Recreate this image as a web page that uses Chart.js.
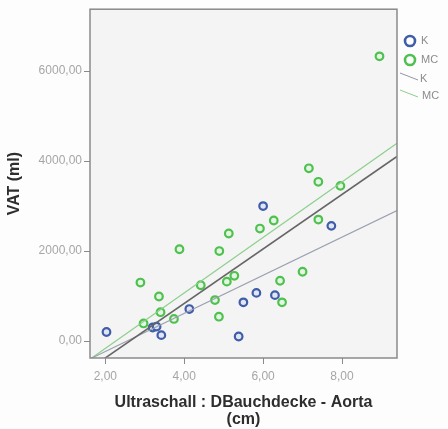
<!DOCTYPE html>
<html>
<head>
<meta charset="utf-8">
<script src="https://cdn.jsdelivr.net/npm/chart.js@4.4.1/dist/chart.umd.min.js"></script>
<style>
  html, body { margin: 0; padding: 0; background: #fdfdfd; }
  #wrap { width: 448px; height: 429px; }
</style>
</head>
<body>
<div id="wrap"><canvas id="vatChart"></canvas></div>
<script>
// Ultraschall-Abstand Bauchdecke-Aorta (cm) gegen VAT (ml), Gruppen K und MC

// Gruppe K
const kDistance = [2.03, 3.20, 3.30, 3.42, 4.13, 5.38, 5.50, 5.83, 6.00, 6.30, 7.73];
const kVat      = [200, 300, 320, 130, 710, 100, 860, 1070, 3000, 1020, 2560];

// Gruppe MC
const mcDistance = [2.89, 2.97, 3.36, 3.40, 3.74, 3.88, 4.42, 4.78, 4.88, 4.89, 5.08, 5.13, 5.27,
                    5.92, 6.27, 6.43, 6.48, 7.00, 7.16, 7.40, 7.40, 7.96, 8.95];
const mcVat      = [1300, 390, 990, 640, 490, 2040, 1240, 910, 540, 2000, 1320, 2390, 1450,
                    2500, 2680, 1340, 860, 1540, 3840, 3540, 2700, 3450, 6330];

// Regressionsgeraden: VAT = a + b * Abstand
const fitLabels     = ['K', 'MC', 'Gesamt'];
const fitIntercepts = [-1082, -1399, -1589];
const fitSlopes     = [424, 617, 606];

// Achsen
const xTicks = [2, 4, 6, 8];
const yTicks = [0, 2000, 4000, 6000];
const xMin = 1.612, xMax = 9.394;
const yMin = -378, yMax = 7378;

const blue = '#3f5da8';
const green = '#4fc14f';

function fmt(v) {
  return v.toFixed(2).replace('.', ',');
}

function fitLine(i) {
  return [xMin, xMax].map(x => ({ x: x, y: fitIntercepts[i] + fitSlopes[i] * x }));
}

const pointsK = kDistance.map((x, i) => ({ x: x, y: kVat[i] }));
const pointsMC = mcDistance.map((x, i) => ({ x: x, y: mcVat[i] }));

// Hintergrund und Rahmen des Plotbereichs
const frame = {
  id: 'frame',
  beforeDatasetsDraw(chart) {
    const { ctx, chartArea: a } = chart;
    ctx.save();
    ctx.fillStyle = '#f4f4f4';
    ctx.fillRect(a.left, a.top, a.right - a.left, a.bottom - a.top);
    ctx.restore();
  },
  afterDatasetsDraw(chart) {
    const { ctx, chartArea: a } = chart;
    ctx.save();
    ctx.strokeStyle = '#8a8a8a';
    ctx.lineWidth = 1.5;
    ctx.strokeRect(a.left, a.top, a.right - a.left, a.bottom - a.top);
    ctx.restore();
  }
};

// Legende rechts neben dem Plot
const legendBox = {
  id: 'legendBox',
  afterDraw(chart) {
    const ctx = chart.ctx;
    const x0 = chart.chartArea.right + 13;
    ctx.save();
    ctx.font = '11px "Liberation Sans", Arial, sans-serif';
    ctx.fillStyle = '#8c8c8c';
    ctx.textBaseline = 'middle';

    // Punktsymbole
    [[blue, 'K', 41], [green, 'MC', 60]].forEach(function(item) {
      ctx.beginPath();
      ctx.arc(x0, item[2], 5, 0, Math.PI * 2);
      ctx.lineWidth = 2.6;
      ctx.strokeStyle = item[0];
      ctx.stroke();
      ctx.fillText(item[1], x0 + 11, item[2]);
    });

    // Liniensymbole
    [['#9096a6', 'K', 73], ['#8ccf8c', 'MC', 90]].forEach(function(item) {
      ctx.beginPath();
      ctx.moveTo(x0 - 10, item[2]);
      ctx.lineTo(x0 + 8, item[2] + 7);
      ctx.lineWidth = 1;
      ctx.strokeStyle = item[0];
      ctx.stroke();
      ctx.fillText(item[1], x0 + (item[1] === 'K' ? 10 : 12), item[2] + 6);
    });
    ctx.restore();
  }
};

const ctx = document.getElementById('vatChart');

const vatChart = new Chart(ctx, {
  type: 'scatter',
  data: {
    datasets: [
      {
        label: 'K',
        data: pointsK,
        borderColor: blue,
        backgroundColor: '#e1e6f2',
        borderWidth: 2.2,
        pointRadius: 3.8,
        order: 2
      },
      {
        label: 'MC',
        data: pointsMC,
        borderColor: green,
        backgroundColor: '#e4f5e4',
        borderWidth: 2.2,
        pointRadius: 3.8,
        order: 2
      },
      {
        type: 'line',
        label: fitLabels[0],
        data: fitLine(0),
        borderColor: '#9aa0b0',
        borderWidth: 1.1,
        pointRadius: 0,
        order: 1
      },
      {
        type: 'line',
        label: fitLabels[1],
        data: fitLine(1),
        borderColor: '#8ccf8c',
        borderWidth: 1.2,
        pointRadius: 0,
        order: 1
      },
      {
        type: 'line',
        label: fitLabels[2],
        data: fitLine(2),
        borderColor: '#666666',
        borderWidth: 1.6,
        pointRadius: 0,
        order: 0
      }
    ]
  },
  options: {
    responsive: true,
    maintainAspectRatio: false,
    animation: false,
    layout: { padding: { top: 9, right: 51, left: 0, bottom: 0 } },
    plugins: {
      legend: { display: false },
      tooltip: { enabled: false }
    },
    scales: {
      x: {
        type: 'linear',
        min: xMin,
        max: xMax,
        afterBuildTicks: function(scale) {
          scale.ticks = xTicks.map(v => ({ value: v }));
        },
        afterFit: function(scale) {
          scale.height = 71;
        },
        grid: { drawOnChartArea: false, tickLength: 6, color: '#8a8a8a' },
        border: { display: false },
        ticks: {
          padding: 5,
          color: '#a6a6a6',
          font: { family: '"Liberation Sans", Arial, sans-serif', size: 12 },
          callback: function(v) { return fmt(v); }
        },
        title: {
          display: true,
          text: ['Ultraschall : DBauchdecke - Aorta', '(cm)'],
          color: '#2e2e2e',
          font: { family: '"Liberation Sans", Arial, sans-serif', size: 16, weight: 'bold', lineHeight: 1.05 },
          padding: { top: 0, bottom: 1 }
        }
      },
      y: {
        type: 'linear',
        min: yMin,
        max: yMax,
        afterBuildTicks: function(scale) {
          scale.ticks = yTicks.map(v => ({ value: v }));
        },
        afterFit: function(scale) {
          scale.width = 90;
        },
        grid: { drawOnChartArea: false, tickLength: 6, color: '#8a8a8a' },
        border: { display: false },
        ticks: {
          padding: 2,
          color: '#a6a6a6',
          font: { family: '"Liberation Sans", Arial, sans-serif', size: 12 },
          callback: function(v) { return fmt(v); }
        },
        title: {
          display: true,
          text: 'VAT (ml)',
          color: '#2e2e2e',
          font: { family: '"Liberation Sans", Arial, sans-serif', size: 16, weight: 'bold', lineHeight: 1.1 },
          padding: { top: 6, bottom: 0 }
        }
      }
    }
  },
  plugins: [frame, legendBox]
});
</script>
</body>
</html>
